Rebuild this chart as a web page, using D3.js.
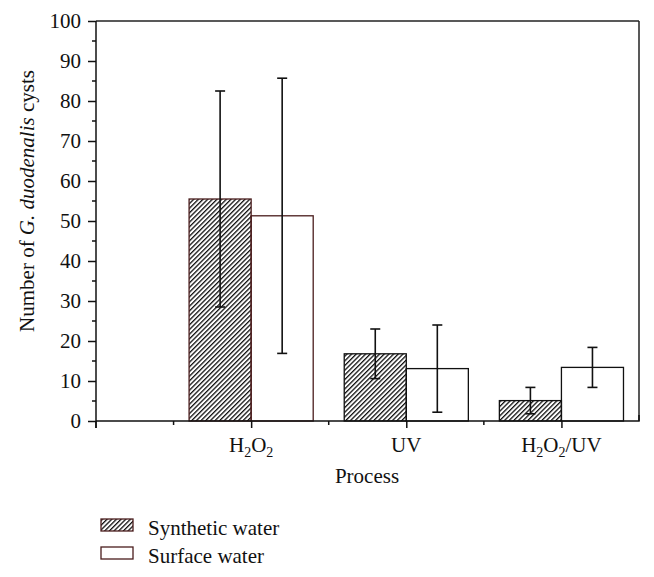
<!DOCTYPE html>
<html>
<head>
<meta charset="utf-8">
<script src="https://cdn.jsdelivr.net/npm/d3@7"></script>
<style>
  body { margin: 0; background: #fff; }
  text { font-family: "Liberation Serif", "DejaVu Serif", serif; fill: #111; }
</style>
</head>
<body>
<div id="chart"></div>
<script>
// data
const processes = ["H2O2", "UV", "H2O2/UV"]
const synthetic = [55.5, 16.8, 5.1]
const syntheticErr = [27.0, 6.2, 3.3]
const surface = [51.3, 13.1, 13.4]
const surfaceErr = [34.4, 10.9, 5.0]
const yTicks = [0, 10, 20, 30, 40, 50, 60, 70, 80, 90, 100]

const width = 654, height = 577
const plotLeft = 96, plotRight = 639, plotTop = 21, plotBottom = 421
const brown = "#4a1d1d"
const fs = "21px"

const svg = d3.select("#chart").append("svg")
    .attr("width", width)
    .attr("height", height)

const defs = svg.append("defs")
const pat = defs.append("pattern")
    .attr("id", "hatch")
    .attr("patternUnits", "userSpaceOnUse")
    .attr("width", 3.3)
    .attr("height", 3.3)
    .attr("patternTransform", "rotate(45)")
pat.append("rect").attr("width", 3.3).attr("height", 3.3).attr("fill", "#fff")
pat.append("line")
    .attr("x1", 0).attr("y1", 0).attr("x2", 0).attr("y2", 3.3)
    .attr("stroke", "#111").attr("stroke-width", 2.6)

// scales: categories at 1,2,3, axis runs 0..3.5
const x = d3.scaleLinear().domain([0, 3.5]).range([plotLeft, plotRight])
const y = d3.scaleLinear().domain([0, 100]).range([plotBottom, plotTop])
const barW = 0.4

// frame
svg.append("line").attr("x1", plotLeft).attr("x2", plotRight).attr("y1", plotTop).attr("y2", plotTop)
    .attr("stroke", "#222").attr("stroke-width", 1.5)
svg.append("line").attr("x1", plotRight).attr("x2", plotRight).attr("y1", plotTop).attr("y2", plotBottom)
    .attr("stroke", "#222").attr("stroke-width", 1.5)

// bars
const groups = processes.map((p, i) => ({p, i}))
groups.forEach(({p, i}) => {
    const stroke = i === 0 ? brown : "#111"
    svg.append("rect")
        .attr("x", x(i + 1 - barW))
        .attr("y", y(synthetic[i]))
        .attr("width", x(barW) - x(0))
        .attr("height", y(0) - y(synthetic[i]))
        .attr("fill", "url(#hatch)")
        .attr("stroke", stroke)
        .attr("stroke-width", 1.3)
    svg.append("rect")
        .attr("x", x(i + 1))
        .attr("y", y(surface[i]))
        .attr("width", x(barW) - x(0))
        .attr("height", y(0) - y(surface[i]))
        .attr("fill", "none")
        .attr("stroke", stroke)
        .attr("stroke-width", 1.3)
})

// error bars
function errBar(cx, v, e) {
    const g = svg.append("g").attr("stroke", "#111").attr("stroke-width", 1.6)
    g.append("line").attr("x1", cx).attr("x2", cx).attr("y1", y(v - e)).attr("y2", y(v + e))
    g.append("line").attr("x1", cx - 5).attr("x2", cx + 5).attr("y1", y(v - e)).attr("y2", y(v - e))
    g.append("line").attr("x1", cx - 5).attr("x2", cx + 5).attr("y1", y(v + e)).attr("y2", y(v + e))
}
groups.forEach(({i}) => {
    errBar(x(i + 1 - barW / 2), synthetic[i], syntheticErr[i])
    errBar(x(i + 1 + barW / 2), surface[i], surfaceErr[i])
})

// y axis
const yAxis = svg.append("g").attr("transform", `translate(${plotLeft},0)`)
    .call(d3.axisLeft(y).tickValues(yTicks).tickSize(8).tickPadding(7))
yAxis.selectAll("text").style("font-size", fs)
yAxis.append("g").selectAll("line")
    .data(d3.range(5, 100, 10))
    .join("line")
    .attr("x1", -4).attr("x2", 0)
    .attr("y1", d => y(d)).attr("y2", d => y(d))
    .attr("stroke", "#111")
yAxis.selectAll("path, line").attr("stroke", "#111").attr("stroke-width", 1.5)
yAxis.select(".domain").attr("d", `M0,${plotBottom + 7}V${plotTop}`)

// x axis
const xAxis = svg.append("g").attr("transform", `translate(0,${plotBottom})`)
    .call(d3.axisBottom(x).tickValues([1, 2, 3]).tickSize(7).tickFormat(""))
xAxis.selectAll("path, line").attr("stroke", "#111").attr("stroke-width", 1.5)
xAxis.select(".domain").attr("d", `M${plotLeft},0H${plotRight}V-6`)
xAxis.append("g").selectAll("line")
    .data([0, 0.5, 1.5, 2.5])
    .join("line")
    .attr("x1", d => x(d)).attr("x2", d => x(d))
    .attr("y1", 0).attr("y2", d => d === 0 ? 7 : 4)
    .attr("stroke", "#111").attr("stroke-width", 1.5)

// x tick labels with subscripts
function chemLabel(sel, s) {
    const parts = s.split(/(\d)/).filter(d => d)
    let shifted = false
    parts.forEach(part => {
        const isSub = /\d/.test(part)
        const ts = sel.append("tspan").text(part)
        if (isSub) {
            ts.attr("dy", 5).style("font-size", "14px")
            shifted = true
        } else if (shifted) {
            ts.attr("dy", -5)
            shifted = false
        }
    })
}
processes.forEach((p, i) => {
    const t = svg.append("text")
        .attr("x", x(i + 1))
        .attr("y", 452)
        .attr("text-anchor", "middle")
        .style("font-size", fs)
    chemLabel(t, p)
})

svg.append("text")
    .attr("x", 367).attr("y", 483)
    .attr("text-anchor", "middle")
    .style("font-size", fs)
    .text("Process")

// y label
const yl = svg.append("text")
    .attr("transform", `translate(34,201) rotate(-90)`)
    .attr("text-anchor", "middle")
    .style("font-size", fs)
yl.append("tspan").text("Number of ")
yl.append("tspan").style("font-style", "italic").text("G. duodenalis")
yl.append("tspan").text(" cysts")

// legend
const legend = [
    {label: "Synthetic water", fill: "url(#hatch)"},
    {label: "Surface water", fill: "#fff"}
]
legend.forEach((d, i) => {
    const ly = 519 + i * 28
    svg.append("rect")
        .attr("x", 101).attr("y", ly)
        .attr("width", 32).attr("height", 12)
        .attr("fill", d.fill)
        .attr("stroke", brown).attr("stroke-width", 1.3)
    svg.append("text")
        .attr("x", 148).attr("y", ly + 16)
        .style("font-size", fs)
        .text(d.label)
})
</script>
</body>
</html>
